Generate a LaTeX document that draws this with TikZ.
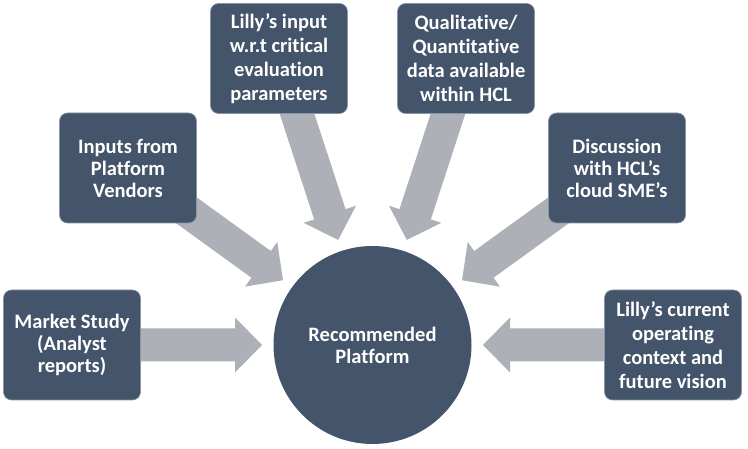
\documentclass[tikz,border=0pt]{standalone}
\usepackage{fontspec}
\setmainfont{Carlito}[Ligatures=NoCommon]
\usetikzlibrary{calc,backgrounds}
\definecolor{boxblue}{HTML}{44546A}
\definecolor{arrowgrey}{HTML}{ADB0B7}
\definecolor{boxedge}{HTML}{8A95A5}
\newcommand\bigarrow[2]{%
  \coordinate (#2) at ($(rec.center)!110.5pt!(#1.center)$);
  \coordinate (#2b) at ($(#2)!27pt!(#1.center)$);
  \fill[arrowgrey]
    ($(#1.center)!16.5pt!90:(#2)$) --
    ($(#2b)!16.5pt!90:(#2)$) --
    ($(#2b)!27.5pt!90:(#2)$) --
    (#2) --
    ($(#2b)!27.5pt!-90:(#2)$) --
    ($(#2b)!16.5pt!-90:(#2)$) --
    ($(#1.center)!16.5pt!-90:(#2)$) -- cycle;
}
\tikzset{
  txt/.style={text=white, font=\bfseries\fontsize{20.5}{22}\selectfont, align=center},
  infobox/.style={txt, rectangle, rounded corners=8pt, fill=boxblue, draw=boxedge,
    line width=0.6pt, minimum width=137pt, minimum height=110pt, inner sep=0pt},
  tallbox/.style={infobox, font=\bfseries\fontsize{20.5}{24}\selectfont},
  hub/.style={txt, circle, fill=boxblue, minimum size=198pt, inner sep=0pt}
}
\begin{document}
\begin{tikzpicture}[x=1pt,y=-1pt]
\useasboundingbox (0,0) rectangle (748,449);
\node[hub] (rec) at (372.5,345) {Recommended\\Platform};
\node[infobox] (b1) at (72,345) {Market Study\\(Analyst\\reports)};
\node[infobox] (b2) at (128,168) {Inputs from\\Platform\\Vendors};
\node[tallbox] (b3) at (279,58.5) {Lilly’s input\\w.r.t critical\\evaluation\\parameters};
\node[tallbox] (b4) at (466,58.5) {Qualitative/\\Quantitative\\data available\\within HCL};
\node[infobox] (b5) at (617,168) {Discussion\\with HCL’s\\cloud SME’s};
\node[tallbox] (b6) at (673,345) {Lilly’s current\\operating\\context and\\future vision};
\begin{scope}[on background layer]
  \fill[white] (0,0) rectangle (748,449);
  \bigarrow{b1}{t1}
  \bigarrow{b2}{t2}
  \bigarrow{b3}{t3}
  \bigarrow{b4}{t4}
  \bigarrow{b5}{t5}
  \bigarrow{b6}{t6}
\end{scope}
\end{tikzpicture}
\end{document}
